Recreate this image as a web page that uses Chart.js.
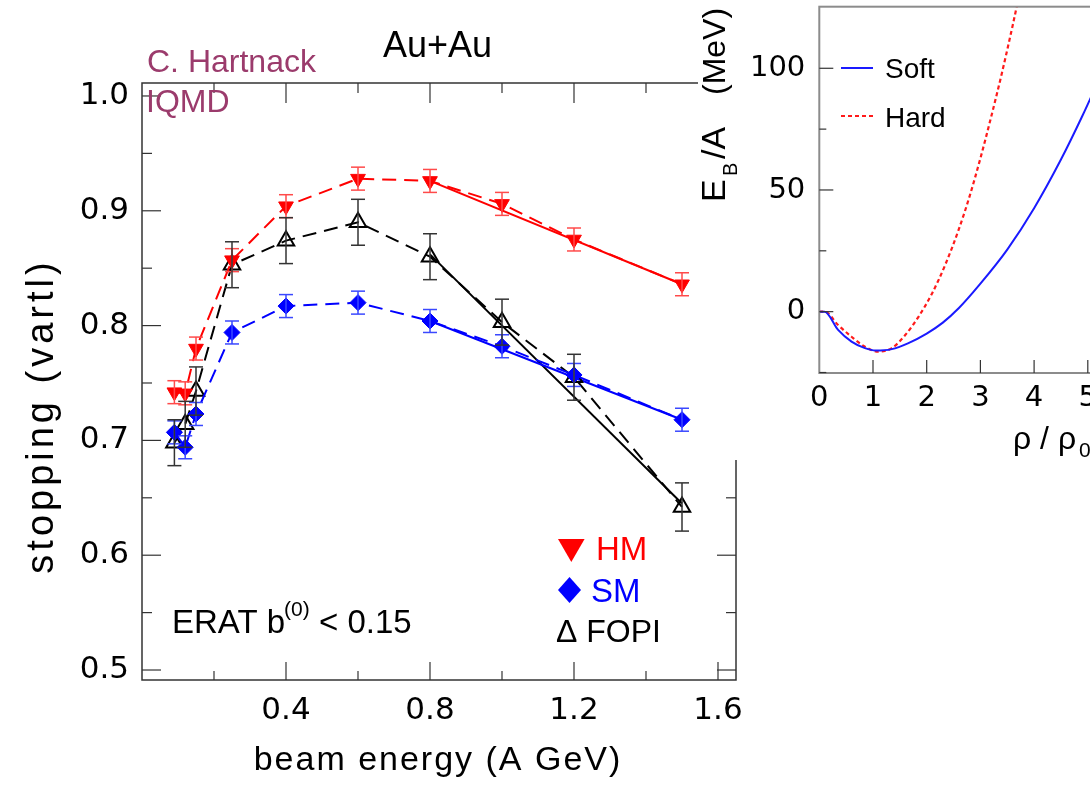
<!DOCTYPE html>
<html>
<head>
<meta charset="utf-8">
<script src="https://cdn.jsdelivr.net/npm/chart.js@4.4.1/dist/chart.umd.min.js"></script>
<style>
  html, body { margin: 0; padding: 0; background: #fff; overflow: hidden; }
  #wrap { position: relative; width: 1090px; height: 786px; overflow: hidden; background: #fff; }
  #main { position: absolute; left: 0; top: 0; }
  #inset { position: absolute; left: 698px; top: -40px; background: #fff; }
</style>
</head>
<body>
<div id="wrap">
  <canvas id="main" width="1090" height="786"></canvas>
  <canvas id="inset" width="500" height="500"></canvas>
</div>
<script>
// ---- main panel data: stopping vs beam energy ----
const energies = [0.09, 0.12, 0.15, 0.25, 0.4, 0.6, 0.8, 1.0, 1.2, 1.5];
const hmStopping = [0.742, 0.741, 0.780, 0.857, 0.904, 0.928, 0.926, 0.906, 0.875, 0.836];
const smStopping = [0.707, 0.694, 0.723, 0.794, 0.817, 0.820, 0.804, 0.782, 0.757, 0.718];
const fopiStopping = [0.698, 0.714, 0.743, 0.853, 0.874, 0.890, 0.860, 0.803, 0.755, 0.642];
const hmErr = [0.01, 0.01, 0.01, 0.01, 0.01, 0.01, 0.01, 0.01, 0.01, 0.01];
const smErr = [0.01, 0.01, 0.01, 0.01, 0.01, 0.01, 0.01, 0.01, 0.01, 0.01];
const fopiErr = [0.02, 0.02, 0.021, 0.02, 0.02, 0.02, 0.02, 0.02, 0.02, 0.021];

// straight lines above 0.8 A GeV
const fitEnergies = [0.8, 1.5];
const hmFit = [0.926, 0.836];
const smFit = [0.804, 0.718];
const fopiFit = [0.862, 0.645];

const xMajorTicks = [0.4, 0.8, 1.2, 1.6];
const xMinorTicks = [0.2, 0.6, 1.0, 1.4];
const yMajorTicks = [0.5, 0.6, 0.7, 0.8, 0.9, 1.0];
const yMinorTicks = [0.55, 0.65, 0.75, 0.85, 0.95];

// ---- inset data: EOS, E_B/A vs rho/rho0 ----
const softRho = [0, 0.1, 0.35, 0.6, 0.85, 1.05, 1.35, 1.65, 2.0, 2.3, 2.6, 3.0, 3.5, 4.0, 4.5, 4.9, 5.2];
const softE = [0, 0, -7.5, -12.3, -15, -16, -15.4, -13, -9, -4.5, 1.5, 11.5, 25.5, 42.5, 62.5, 80.5, 95];
const hardRho = [0, 0.1, 0.35, 0.6, 0.85, 1.1, 1.35, 1.6, 1.85, 2.1, 2.35, 2.6, 2.8, 3.0, 3.2, 3.4, 3.6, 3.75];
const hardE = [0, 0, -5.5, -10.3, -14.4, -16.4, -15, -9.6, -2, 7.5, 19.5, 34, 47.5, 63, 80, 98, 117.5, 133];

const insetXTicks = [0, 1, 2, 3, 4, 5];
const insetYMajor = [0, 50, 100];
const insetYMinor = [-25, 25, 75];

const FONT = '"Liberation Sans", Arial, sans-serif';
const TICKFONT = '"DejaVu Sans", sans-serif';
const PURPLE = '#9b3b6c';
const INSET_LEFT = 698, INSET_TOP = -40;

function toXY(xs, ys) {
  return xs.map((x, i) => ({ x: x, y: ys[i] }));
}

function drawText(ctx, text, x, y, o) {
  ctx.save();
  ctx.font = o.font;
  ctx.fillStyle = o.color || '#000';
  ctx.textAlign = o.align || 'left';
  ctx.textBaseline = o.baseline || 'alphabetic';
  if (o.spacing) ctx.letterSpacing = o.spacing;
  ctx.translate(x, y);
  if (o.rotate) ctx.rotate(o.rotate);
  ctx.fillText(text, 0, 0);
  ctx.restore();
}

function line(ctx, x1, y1, x2, y2) {
  ctx.beginPath();
  ctx.moveTo(x1, y1);
  ctx.lineTo(x2, y2);
  ctx.stroke();
}

// error bars, drawn through the chart scales
const errorBarPlugin = {
  id: 'errorBars',
  afterDatasetsDraw(chart) {
    const ctx = chart.ctx, xs = chart.scales.x, ys = chart.scales.y;
    chart.data.datasets.forEach(ds => {
      if (!ds.errors) return;
      ctx.save();
      ctx.strokeStyle = ds.errorColor;
      ctx.lineWidth = 1.5;
      ds.data.forEach((p, i) => {
        const x = xs.getPixelForValue(p.x);
        const lo = ys.getPixelForValue(p.y - ds.errors[i]);
        const hi = ys.getPixelForValue(p.y + ds.errors[i]);
        line(ctx, x, lo, x, hi);
        line(ctx, x - 7, lo, x + 7, lo);
        line(ctx, x - 7, hi, x + 7, hi);
      });
      ctx.restore();
    });
  }
};

const mainDecor = {
  id: 'mainDecor',
  afterDraw(chart) {
    const ctx = chart.ctx, ca = chart.chartArea;
    const xs = chart.scales.x, ys = chart.scales.y;
    ctx.save();
    ctx.strokeStyle = '#333';
    ctx.lineWidth = 1.5;
    ctx.strokeRect(ca.left, ca.top, ca.right - ca.left, ca.bottom - ca.top);
    ctx.lineWidth = 1.2;
    xMajorTicks.forEach(v => {
      const px = xs.getPixelForValue(v);
      line(ctx, px, ca.bottom, px, ca.bottom - 18);
      line(ctx, px, ca.top, px, ca.top + 20);
    });
    xMinorTicks.forEach(v => {
      const px = xs.getPixelForValue(v);
      line(ctx, px, ca.bottom, px, ca.bottom - 9);
      line(ctx, px, ca.top, px, ca.top + 10);
    });
    yMajorTicks.forEach(v => {
      const py = ys.getPixelForValue(v);
      line(ctx, ca.left, py, ca.left + 19, py);
      line(ctx, ca.right, py, ca.right - 19, py);
    });
    yMinorTicks.forEach(v => {
      const py = ys.getPixelForValue(v);
      line(ctx, ca.left, py, ca.left + 10, py);
      line(ctx, ca.right, py, ca.right - 10, py);
    });

    // titles and labels
    drawText(ctx, 'beam energy (A GeV)', 438, 770, { font: '34px ' + FONT, align: 'center', spacing: '2px' });
    drawText(ctx, 'stopping (vartl)', 53, 416, { font: '38px ' + FONT, align: 'center', rotate: -Math.PI / 2, spacing: '4px' });
    drawText(ctx, 'C. Hartnack', 147, 72, { font: '32px ' + FONT, color: PURPLE });
    drawText(ctx, 'IQMD', 146, 112, { font: '32px ' + FONT, color: PURPLE });
    drawText(ctx, 'Au+Au', 383, 57, { font: '36px ' + FONT });
    drawText(ctx, 'ERAT b', 172, 633, { font: '33px ' + FONT });
    drawText(ctx, '(0)', 284, 616, { font: '21px ' + FONT });
    drawText(ctx, '< 0.15', 319, 633, { font: '33px ' + FONT });

    // legend
    ctx.fillStyle = '#ff0000';
    ctx.beginPath();
    ctx.moveTo(558, 539); ctx.lineTo(584.6, 539); ctx.lineTo(571.3, 562); ctx.closePath();
    ctx.fill();
    drawText(ctx, 'HM', 596, 560, { font: '33px ' + FONT, color: '#ff0000' });
    ctx.fillStyle = '#0000ff';
    ctx.beginPath();
    ctx.moveTo(569.5, 577); ctx.lineTo(581, 590); ctx.lineTo(569.5, 603); ctx.lineTo(558, 590); ctx.closePath();
    ctx.fill();
    drawText(ctx, 'SM', 591, 602, { font: '33px ' + FONT, color: '#0000ff' });
    drawText(ctx, '\u0394 FOPI', 556, 642, { font: '32px ' + FONT });
    ctx.restore();
  }
};

new Chart(document.getElementById('main'), {
  type: 'line',
  data: {
    datasets: [
      {
        label: 'HM',
        data: toXY(energies, hmStopping),
        errors: hmErr,
        errorColor: '#ff4a4a',
        borderColor: '#ff0000',
        backgroundColor: '#ff0000',
        borderWidth: 2,
        borderDash: [14, 8],
        pointStyle: 'triangle',
        pointRotation: 180,
        pointRadius: 8.5,
        pointBorderWidth: 1
      },
      {
        label: 'SM',
        data: toXY(energies, smStopping),
        errors: smErr,
        errorColor: '#3a48ff',
        borderColor: '#0000ff',
        backgroundColor: '#0000ff',
        borderWidth: 2,
        borderDash: [14, 8],
        pointStyle: 'rectRot',
        pointRadius: 8,
        pointBorderWidth: 1
      },
      {
        label: 'FOPI',
        data: toXY(energies, fopiStopping),
        errors: fopiErr,
        errorColor: '#333333',
        borderColor: '#000000',
        backgroundColor: 'rgba(255,255,255,0)',
        borderWidth: 2,
        borderDash: [14, 8],
        pointStyle: 'triangle',
        pointRadius: 9.5,
        pointBorderWidth: 2
      },
      {
        label: 'HM fit',
        data: toXY(fitEnergies, hmFit),
        borderColor: '#ff0000',
        borderWidth: 2,
        pointRadius: 0
      },
      {
        label: 'SM fit',
        data: toXY(fitEnergies, smFit),
        borderColor: '#0000ff',
        borderWidth: 2,
        pointRadius: 0
      },
      {
        label: 'FOPI fit',
        data: toXY(fitEnergies, fopiFit),
        borderColor: '#000000',
        borderWidth: 2,
        pointRadius: 0
      }
    ]
  },
  options: {
    responsive: false,
    animation: false,
    layout: { padding: { top: 83, right: 354, left: 0, bottom: 0 } },
    plugins: { legend: { display: false }, tooltip: { enabled: false } },
    scales: {
      x: {
        type: 'linear',
        min: 0,
        max: 1.65,
        afterFit: s => { s.height = 106; },
        afterBuildTicks: s => { s.ticks = xMajorTicks.map(v => ({ value: v })); },
        grid: { display: false, drawTicks: false, tickLength: 0 },
        border: { display: false },
        ticks: {
          padding: 12,
          color: '#000',
          font: { family: TICKFONT, size: 31 },
          maxRotation: 0,
          autoSkip: false,
          callback: v => v.toFixed(1)
        }
      },
      y: {
        min: 0.4913,
        max: 1.0113,
        afterFit: s => { s.width = 142; },
        afterBuildTicks: s => { s.ticks = yMajorTicks.map(v => ({ value: v })); },
        grid: { display: false, drawTicks: false, tickLength: 0 },
        border: { display: false },
        ticks: {
          padding: 13,
          color: '#000',
          font: { family: TICKFONT, size: 31 },
          autoSkip: false,
          callback: v => v.toFixed(1)
        }
      }
    }
  },
  plugins: [errorBarPlugin, mainDecor]
});

// ---- inset ----
const insetDecor = {
  id: 'insetDecor',
  afterDraw(chart) {
    const ctx = chart.ctx, ca = chart.chartArea;
    const xs = chart.scales.x, ys = chart.scales.y;
    ctx.save();
    ctx.strokeStyle = '#8c8c8c';
    ctx.lineWidth = 2;
    ctx.strokeRect(ca.left, ca.top, ca.right - ca.left, ca.bottom - ca.top);
    ctx.strokeStyle = '#333';
    ctx.lineWidth = 1.2;
    insetXTicks.forEach(v => {
      if (v === 0) return;
      const px = xs.getPixelForValue(v);
      line(ctx, px, ca.bottom, px, ca.bottom - 13);
    });
    insetYMajor.forEach(v => {
      const py = ys.getPixelForValue(v);
      line(ctx, ca.left, py, ca.left + 14, py);
    });
    insetYMinor.forEach(v => {
      const py = ys.getPixelForValue(v);
      line(ctx, ca.left, py, ca.left + 7, py);
    });

    // texts in page coordinates
    ctx.translate(-INSET_LEFT, -INSET_TOP);
    ctx.lineWidth = 2;
    ctx.strokeStyle = '#1a1aff';
    line(ctx, 841, 68, 873, 68);
    ctx.strokeStyle = '#ff1a1a';
    ctx.setLineDash([4, 3]);
    line(ctx, 841, 116, 873, 116);
    ctx.setLineDash([]);
    drawText(ctx, 'Soft', 885, 78, { font: '28px ' + FONT });
    drawText(ctx, 'Hard', 885, 127, { font: '28px ' + FONT });

    const rot = -Math.PI / 2;
    drawText(ctx, 'E', 725, 202, { font: '34px ' + FONT, rotate: rot });
    drawText(ctx, 'B', 737, 176, { font: '20px ' + FONT, rotate: rot });
    drawText(ctx, '/A', 725, 159, { font: '34px ' + FONT, rotate: rot });
    drawText(ctx, '(MeV)', 725, 95, { font: '32px ' + FONT, rotate: rot });
    drawText(ctx, '\u03c1 / \u03c1', 1013, 449, { font: '32px ' + FONT });
    drawText(ctx, '0', 1079, 457, { font: '21px ' + FONT });
    ctx.restore();
  }
};

new Chart(document.getElementById('inset'), {
  type: 'scatter',
  data: {
    datasets: [
      {
        label: 'Soft',
        data: toXY(softRho, softE),
        showLine: true,
        borderColor: '#1a1aff',
        borderWidth: 2,
        pointRadius: 0,
        cubicInterpolationMode: 'monotone'
      },
      {
        label: 'Hard',
        data: toXY(hardRho, hardE),
        showLine: true,
        borderColor: '#ff1a1a',
        borderWidth: 2.2,
        borderDash: [4, 3],
        pointRadius: 0,
        cubicInterpolationMode: 'monotone'
      }
    ]
  },
  options: {
    responsive: false,
    animation: false,
    layout: { padding: { top: 46.7, right: 56.5, left: 0, bottom: 0 } },
    plugins: { legend: { display: false }, tooltip: { enabled: false } },
    scales: {
      x: {
        type: 'linear',
        min: 0,
        max: 6,
        afterFit: s => { s.height = 87; },
        afterBuildTicks: s => { s.ticks = insetXTicks.map(v => ({ value: v })); },
        grid: { display: false, drawTicks: false, tickLength: 0 },
        border: { display: false },
        ticks: { padding: 8, color: '#000', font: { family: TICKFONT, size: 29 }, maxRotation: 0, autoSkip: false }
      },
      y: {
        min: -25.2,
        max: 125.3,
        afterFit: s => { s.width = 121.3; },
        afterBuildTicks: s => { s.ticks = insetYMajor.map(v => ({ value: v })); },
        grid: { display: false, drawTicks: false, tickLength: 0 },
        border: { display: false },
        ticks: { padding: 14, color: '#000', font: { family: TICKFONT, size: 29 }, autoSkip: false }
      }
    }
  },
  plugins: [insetDecor]
});
</script>
</body>
</html>
